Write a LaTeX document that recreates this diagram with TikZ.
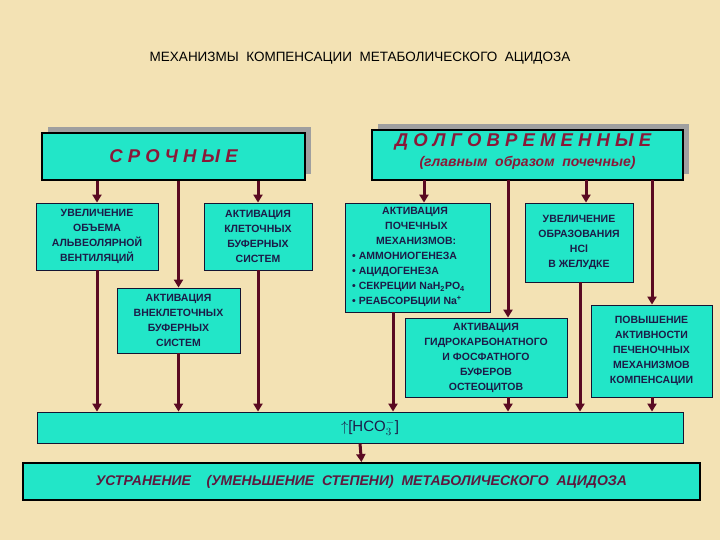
\documentclass[tikz,border=0pt]{standalone}
\usepackage{fontspec}
\setmainfont{Liberation Sans}
\usetikzlibrary{arrows.meta}
\definecolor{bg}{HTML}{F3E2B4}
\definecolor{cy}{HTML}{22E6C8}
\definecolor{ink}{HTML}{1C1C48}
\definecolor{arr}{HTML}{5A0A22}
\definecolor{hd}{HTML}{8A1838}
\tikzset{
 box/.style={draw=ink!70!black,line width=0.8pt,fill=cy,align=center,inner sep=0pt,
   font=\fontsize{10.5}{15}\selectfont\bfseries,text=ink},
 btext/.style={align=left,inner sep=0pt,font=\fontsize{10.5}{15}\selectfont\bfseries,text=ink},
 bigbox/.style={draw=black,line width=1.8pt,fill=cy,inner sep=0pt},
 shad/.style={fill=gray!75,draw=none},
 ar/.style={draw=arr,line width=3pt,-{Triangle[width=9pt,length=8pt]}},
 hdtext/.style={text=hd,font=\fontsize{18.5}{20}\selectfont\bfseries\itshape},
}
\begin{document}
\begin{tikzpicture}[x=1pt,y=-1pt]
\fill[bg] (0,0) rectangle (720,540);
\useasboundingbox (0,0) rectangle (720,540);
\node[font=\fontsize{13.5}{14}\selectfont,text=black] (title) at (360,58) {МЕХАНИЗМЫ\ \ КОМПЕНСАЦИИ\ \ МЕТАБОЛИЧЕСКОГО\ \ АЦИДОЗА};
% headers
\fill[shad] (48,127) rectangle (311,174);
\node[bigbox,minimum width=263,minimum height=47] (sr) at (173.5,156.5) {};
\node[hdtext] (srt) at (sr.center) {С Р О Ч Н Ы Е};
\fill[shad] (378,124) rectangle (689,174);
\node[bigbox,minimum width=311,minimum height=50] (dv) at (527.5,155) {};
\node[hdtext] (dvt) at (523,142) {Д О Л Г О В Р Е М Е Н Н Ы Е};
\node[text=hd,font=\fontsize{14}{15}\selectfont\bfseries\itshape] (dvs) at (527.5,163) {(главным\ \ образом\ \ почечные)};
% boxes
\node[box,minimum width=122,minimum height=67] (b1) at (97,236.5) {УВЕЛИЧЕНИЕ\\ОБЪЕМА\\АЛЬВЕОЛЯРНОЙ\\ВЕНТИЛЯЦИЙ};
\node[box,minimum width=108,minimum height=67] (b2) at (258,236.5) {АКТИВАЦИЯ\\КЛЕТОЧНЫХ\\БУФЕРНЫХ\\СИСТЕМ};
\node[box,minimum width=123,minimum height=65] (b3) at (178.5,320.5) {АКТИВАЦИЯ\\ВНЕКЛЕТОЧНЫХ\\БУФЕРНЫХ\\СИСТЕМ};
\node[box,minimum width=145,minimum height=109] (b4) at (417.5,257.5) {};
\node[btext,anchor=north west] (b4t) at (352,207) {\hspace*{30pt}АКТИВАЦИЯ\\\hspace*{33pt}ПОЧЕЧНЫХ\\\hspace*{24pt}МЕХАНИЗМОВ:\\• АММОНИОГЕНЕЗА\\• АЦИДОГЕНЕЗА\\• СЕКРЕЦИИ NaH\textsubscript{2}PO\textsubscript{4}\\• РЕАБСОРБЦИИ Na\textsuperscript{+}};
\node[box,minimum width=108,minimum height=79] (b5) at (579,242.5) {УВЕЛИЧЕНИЕ\\ОБРАЗОВАНИЯ\\НCl\\В ЖЕЛУДКЕ};
\node[box,minimum width=162,minimum height=79] (b6) at (486,357.5) {АКТИВАЦИЯ\\ГИДРОКАРБОНАТНОГО\\И ФОСФАТНОГО\\БУФЕРОВ\\ОСТЕОЦИТОВ};
\node[box,minimum width=121,minimum height=92] (b7) at (651.5,351) {ПОВЫШЕНИЕ\\АКТИВНОСТИ\\ПЕЧЕНОЧНЫХ\\МЕХАНИЗМОВ\\КОМПЕНСАЦИИ};
\node[box,minimum width=646,minimum height=31,font=\fontsize{15}{16}\selectfont,text=ink] (hco) at (360,427.5) {\hspace*{20pt}$\uparrow$[HCO$_{3}^{-}$]};
\node[bigbox,minimum width=677,minimum height=37,text=hd!60!ink,font=\fontsize{14}{15}\selectfont\bfseries\itshape] (ust) at (361.5,481.5) {УСТРАНЕНИЕ\ \ \ \ (УМЕНЬШЕНИЕ\ \ СТЕПЕНИ)\ \ МЕТАБОЛИЧЕСКОГО\ \ АЦИДОЗА};
% arrows
\draw[ar] (sr.south -| b1.north) -- (b1.north);
\draw[ar] (sr.south -| b3.north) -- (b3.north);
\draw[ar] (sr.south -| b2.north) -- (b2.north);
\draw[ar] (b1.south) -- (b1.south |- hco.north);
\draw[ar] (b3.south) -- (b3.south |- hco.north);
\draw[ar] (b2.south) -- (b2.south |- hco.north);
\coordinate (d1) at (424,180); \coordinate (d2) at (508,180);
\coordinate (d3) at (586,180); \coordinate (d4) at (652,180);
\draw[ar] (d1) -- (d1 |- b4.north);
\draw[ar] (d2) -- (d2 |- b6.north);
\draw[ar] (d3) -- (d3 |- b5.north);
\draw[ar] (d4) -- (d4 |- b7.north);
\coordinate (u1) at (393,312); \coordinate (u2) at (508,397);
\coordinate (u3) at (580,282); \coordinate (u4) at (652,397);
\draw[ar] (u1) -- (u1 |- hco.north);
\draw[ar] (u2) -- (u2 |- hco.north);
\draw[ar] (u3) -- (u3 |- hco.north);
\draw[ar] (u4) -- (u4 |- hco.north);
\draw[ar] (hco.south) -- (ust.north);
\end{tikzpicture}
\end{document}
